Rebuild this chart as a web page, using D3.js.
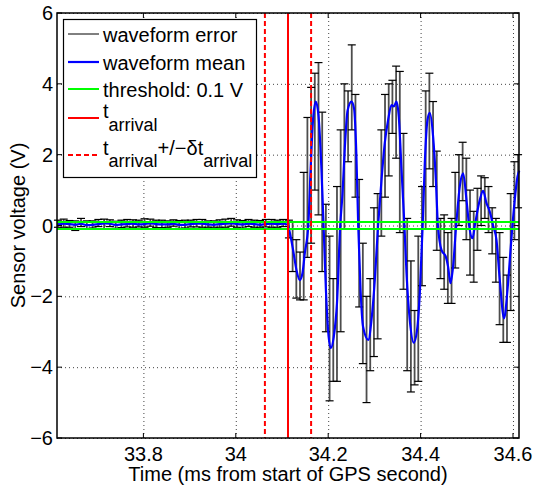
<!DOCTYPE html>
<html>
<head>
<meta charset="utf-8">
<script src="https://cdn.jsdelivr.net/npm/d3@7"></script>
<style>
body { margin: 0; background: #fff; }
text { font-family: "Liberation Sans", Arial, sans-serif; }
</style>
</head>
<body>
<div id="chart"></div>
<script>
var xTicks = [33.8, 34, 34.2, 34.4, 34.6];
var yTicks = [-6, -4, -2, 0, 2, 4, 6];
var tArrival = 34.113;
var dtArrival = 0.05;
var threshold = 0.1;

// before arrival: mean and error bars
var preT = [33.615, 33.6275, 33.64, 33.6525, 33.665, 33.6775, 33.69, 33.7025, 33.715, 33.7275,
	33.74, 33.7525, 33.765, 33.7775, 33.79, 33.8025, 33.815, 33.8275, 33.84, 33.8525,
	33.865, 33.8775, 33.89, 33.9025, 33.915, 33.9275, 33.94, 33.9525, 33.965, 33.9775,
	33.99, 34.0025, 34.015, 34.0275, 34.04, 34.0525, 34.065, 34.0775, 34.09, 34.1025];
var preMean = [0.03, 0.05, 0.04, 0.02, 0.05, 0.01, 0.02, 0.04, 0.06, 0.05,
	0.02, 0.03, 0.04, 0.05, 0.03, 0.04, 0.06, 0.04, 0.03, 0.03,
	0.05, 0.02, 0.02, 0.04, 0.05, 0.05, 0.03, 0.02, 0.04, 0.05,
	0.06, 0.04, 0.03, 0.05, 0.04, 0.02, 0.04, 0.05, 0.04, 0.05];
var preLo = [-0.08, -0.1, -0.09, -0.16, -0.08, -0.1, -0.09, -0.07, -0.16, -0.08,
	-0.1, -0.09, -0.08, -0.1, -0.07, -0.09, -0.08, -0.1, -0.09, -0.08,
	-0.07, -0.1, -0.09, -0.08, -0.09, -0.1, -0.08, -0.07, -0.09, -0.1,
	-0.08, -0.09, -0.1, -0.08, -0.09, -0.07, -0.08, -0.1, -0.09, -0.08];
var preHi = [0.12, 0.13, 0.1, 0.11, 0.15, 0.12, 0.11, 0.13, 0.12, 0.11,
	0.1, 0.12, 0.13, 0.11, 0.12, 0.15, 0.12, 0.11, 0.12, 0.1,
	0.11, 0.12, 0.13, 0.11, 0.12, 0.12, 0.1, 0.11, 0.12, 0.13,
	0.14, 0.12, 0.11, 0.12, 0.11, 0.12, 0.13, 0.12, 0.11, 0.12];

// after arrival: error bars
var errT = [34.115, 34.123, 34.131, 34.139, 34.147, 34.155, 34.163, 34.171, 34.179, 34.187,
	34.195, 34.203, 34.211, 34.219, 34.227, 34.235, 34.243, 34.251, 34.259, 34.267,
	34.275, 34.283, 34.291, 34.299, 34.307, 34.315, 34.323, 34.331, 34.339, 34.347,
	34.355, 34.363, 34.371, 34.379, 34.387, 34.395, 34.403, 34.411, 34.419, 34.427,
	34.435, 34.443, 34.451, 34.459, 34.467, 34.475, 34.483, 34.491, 34.499, 34.507,
	34.515, 34.523, 34.531, 34.539, 34.547, 34.555, 34.563, 34.571, 34.579, 34.587,
	34.595, 34.603, 34.611];
var errLo = [-0.35, -1.3, -2.05, -2.1, -2.1, -0.9, -0.5, 1.0, 0.3, -1.3,
	-3.0, -4.95, -4.4, -4.4, -3.0, -0.1, 1.8, 2.7, 0.8, -2.3,
	-3.9, -5.0, -4.1, -3.7, -3.2, -0.3, 0.8, 1.4, 2.6, 1.9,
	-0.2, -1.8, -4.1, -4.7, -4.5, -4.4, -1.7, -0.1, 1.6, 1.1,
	-0.7, -1.5, -1.8, -2.2, -2.2, -1.2, 0.0, 0.7, -0.4, -1.4,
	-1.6, -0.7, 0.0, 0.2, -0.2, -0.8, -1.6, -2.8, -3.3, -3.3,
	-2.4, -0.4, 0.5];
var errHi = [0.15, 0.1, -0.4, -0.75, 1.5, 3.05, 3.9, 4.3, 4.6, 3.2,
	0.6, -0.3, -1.5, 1.1, 2.7, 4.0, 3.8, 5.1, 3.7, 1.3,
	-0.5, -2.0, -1.5, 0.5, 0.9, 2.7, 3.7, 4.0, 4.1, 4.5,
	4.35, 2.6, 0.2, -1.0, -2.4, -0.3, 1.1, 3.8, 4.3, 3.5,
	2.1, 0.2, 0.3, -0.2, 0.2, 1.5, 2.0, 2.35, 1.9, 1.0,
	0.4, 1.05, 1.4, 1.35, 1.1, 0.5, 0.2, -0.2, -0.9, -1.4,
	0.9, 1.8, 2.0];

// after arrival: waveform mean
var meanT = [34.1126, 34.1169, 34.124, 34.1314, 34.1385, 34.1444, 34.1494, 34.1569, 34.162, 34.1673,
	34.1732, 34.179, 34.185, 34.19, 34.195, 34.2, 34.2056, 34.212, 34.219, 34.226,
	34.231, 34.236, 34.242, 34.2504, 34.256, 34.261, 34.265, 34.27, 34.2755, 34.2868,
	34.2937, 34.3009, 34.308, 34.3154, 34.3225, 34.3297, 34.337, 34.342, 34.3478, 34.3528,
	34.3587, 34.365, 34.3695, 34.3766, 34.3853, 34.3924, 34.3983, 34.4045, 34.4091, 34.4149,
	34.4199, 34.4271, 34.433, 34.4375, 34.4452, 34.4545, 34.4595, 34.4647, 34.4703, 34.477,
	34.4848, 34.492, 34.4994, 34.505, 34.5123, 34.518, 34.5281, 34.5353, 34.5426, 34.5498,
	34.5569, 34.5643, 34.5714, 34.5807, 34.5881, 34.5952, 34.6024, 34.6097, 34.6136];
var meanV = [0.02, -0.2, -0.69, -1.26, -1.54, -1.34, -0.78, 0.0, 1.6, 3.0,
	3.5, 3.1, 1.7, 0.0, -1.8, -3.0, -3.46, -3.15, -2.2, 0.0,
	0.9, 2.2, 3.25, 3.5, 3.3, 2.0, 0.0, -1.8, -2.86, -3.23,
	-2.67, -1.54, 0.0, 1.29, 2.33, 2.98, 3.4, 3.36, 3.5, 3.07,
	1.57, 0.0, -1.34, -2.67, -3.31, -2.95, -1.91, 0.0, 1.76, 2.98,
	3.18, 2.51, 1.3, 0.0, -0.69, -0.88, -1.16, -1.63, -1.16, 0.0,
	1.1, 1.47, 0.72, 0.0, -0.36, 0.05, 0.72, 0.98, 0.63, 0.39,
	0.0, -0.41, -1.54, -2.62, -1.82, -0.6, 0.53, 1.38, 1.55];

var w = 537;
var h = 494;
var pLeft = 57, pRight = 519, pTop = 13, pBottom = 438;

var svg = d3.select('#chart')
	.append('svg')
	.attr('width', w)
	.attr('height', h)
	.style('background', '#fff');

var x = d3.scaleLinear().domain([33.613, 34.613]).range([pLeft, pRight]);
var y = d3.scaleLinear().domain([-6, 6]).range([pBottom, pTop]);

// grid
svg.append('g')
	.attr('transform', 'translate(0,' + pBottom + ')')
	.call(d3.axisBottom(x).tickValues(xTicks).tickSize(-(pBottom - pTop)).tickFormat(''))
	.call(function (g) { g.select('.domain').remove(); })
	.selectAll('line')
	.attr('stroke', '#444')
	.attr('stroke-dasharray', '1,3');

svg.append('g')
	.attr('transform', 'translate(' + pLeft + ',0)')
	.call(d3.axisLeft(y).tickValues(yTicks).tickSize(-(pRight - pLeft)).tickFormat(''))
	.call(function (g) { g.select('.domain').remove(); })
	.selectAll('line')
	.attr('stroke', '#444')
	.attr('stroke-dasharray', '1,3');

var plot = svg.append('g');

// error bars
var bars = [];
preT.forEach(function (t, i) { bars.push({ t: t, lo: preMean[i] + preLo[i], hi: preMean[i] + preHi[i] }); });
errT.forEach(function (t, i) { bars.push({ t: t, lo: errLo[i], hi: errHi[i] }); });

var capW = 4;
plot.selectAll('.stem')
	.data(bars)
	.enter()
	.append('line')
	.attr('x1', function (d) { return x(d.t); })
	.attr('x2', function (d) { return x(d.t); })
	.attr('y1', function (d) { return y(d.lo); })
	.attr('y2', function (d) { return y(d.hi); })
	.attr('stroke', '#4d4d4d')
	.attr('stroke-width', 1.8);

['lo', 'hi'].forEach(function (k) {
	plot.selectAll('.cap-' + k)
		.data(bars)
		.enter()
		.append('line')
		.attr('x1', function (d) { return x(d.t) - capW; })
		.attr('x2', function (d) { return x(d.t) + capW; })
		.attr('y1', function (d) { return y(d[k]); })
		.attr('y2', function (d) { return y(d[k]); })
		.attr('stroke', '#000')
		.attr('stroke-width', 1.2);
});

// mean line
var meanPts = [];
preT.forEach(function (t, i) { meanPts.push([t, preMean[i]]); });
meanT.forEach(function (t, i) { meanPts.push([t, meanV[i]]); });

var lineFn = d3.line()
	.x(function (d) { return x(d[0]); })
	.y(function (d) { return y(d[1]); })
	.curve(d3.curveMonotoneX);

plot.append('path')
	.attr('d', lineFn(meanPts))
	.attr('fill', 'none')
	.attr('stroke', '#0000ff')
	.attr('stroke-width', 2.2);

// threshold
[threshold, -threshold].forEach(function (v) {
	plot.append('line')
		.attr('x1', pLeft).attr('x2', pRight)
		.attr('y1', y(v)).attr('y2', y(v))
		.attr('stroke', '#00ff00')
		.attr('stroke-width', 2);
});

// arrival time
plot.append('line')
	.attr('x1', x(tArrival)).attr('x2', x(tArrival))
	.attr('y1', pTop).attr('y2', pBottom)
	.attr('stroke', '#ff0000')
	.attr('stroke-width', 2);

[tArrival - dtArrival, tArrival + dtArrival].forEach(function (t) {
	plot.append('line')
		.attr('x1', x(t)).attr('x2', x(t))
		.attr('y1', pTop).attr('y2', pBottom)
		.attr('stroke', '#ff0000')
		.attr('stroke-width', 2)
		.attr('stroke-dasharray', '5,3');
});

// axes box and ticks
svg.append('rect')
	.attr('x', pLeft).attr('y', pTop)
	.attr('width', pRight - pLeft).attr('height', pBottom - pTop)
	.attr('fill', 'none')
	.attr('stroke', '#000')
	.attr('stroke-width', 1.5);

var tickLen = 5;
xTicks.forEach(function (t) {
	svg.append('line').attr('x1', x(t)).attr('x2', x(t)).attr('y1', pBottom).attr('y2', pBottom - tickLen).attr('stroke', '#000');
	svg.append('line').attr('x1', x(t)).attr('x2', x(t)).attr('y1', pTop).attr('y2', pTop + tickLen).attr('stroke', '#000');
});
yTicks.forEach(function (v) {
	svg.append('line').attr('x1', pLeft).attr('x2', pLeft + tickLen).attr('y1', y(v)).attr('y2', y(v)).attr('stroke', '#000');
	svg.append('line').attr('x1', pRight).attr('x2', pRight - tickLen).attr('y1', y(v)).attr('y2', y(v)).attr('stroke', '#000');
});

svg.selectAll('.xlab')
	.data(xTicks)
	.enter()
	.append('text')
	.text(function (d) { return d3.format('')(d); })
	.attr('x', function (d) { return x(d); })
	.attr('y', 461)
	.attr('text-anchor', 'middle')
	.attr('font-size', '20px')
	.attr('fill', '#000');

svg.selectAll('.ylab')
	.data(yTicks)
	.enter()
	.append('text')
	.text(function (d) { return d < 0 ? '\u2212' + (-d) : d; })
	.attr('x', 53)
	.attr('y', function (d) { return y(d); })
	.attr('dy', '.35em')
	.attr('text-anchor', 'end')
	.attr('font-size', '20px')
	.attr('fill', '#000');

svg.append('text')
	.text('Time (ms from start of GPS second)')
	.attr('x', (pLeft + pRight) / 2)
	.attr('y', 481)
	.attr('text-anchor', 'middle')
	.attr('font-size', '20px');

svg.append('text')
	.text('Sensor voltage (V)')
	.attr('transform', 'translate(25,' + ((pTop + pBottom) / 2) + ') rotate(-90)')
	.attr('text-anchor', 'middle')
	.attr('font-size', '20px');

// legend
var lg = svg.append('g');
lg.append('rect')
	.attr('x', 63.5).attr('y', 19.5)
	.attr('width', 193).attr('height', 158)
	.attr('fill', '#fff')
	.attr('stroke', '#000')
	.attr('stroke-width', 1.2);

var legendRows = [
	{ y: 34, color: '#000', width: 1, dash: null, text: 'waveform error' },
	{ y: 62, color: '#0000ff', width: 2.2, dash: null, text: 'waveform mean' },
	{ y: 89, color: '#00ff00', width: 2, dash: null, text: 'threshold: 0.1 V' },
	{ y: 118, color: '#ff0000', width: 2, dash: null, text: null },
	{ y: 155, color: '#ff0000', width: 2, dash: '5,3', text: null }
];
legendRows.forEach(function (r) {
	lg.append('line')
		.attr('x1', 68).attr('x2', 99)
		.attr('y1', r.y).attr('y2', r.y)
		.attr('stroke', r.color)
		.attr('stroke-width', r.width)
		.attr('stroke-dasharray', r.dash);
	if (r.text) {
		lg.append('text')
			.text(r.text)
			.attr('x', 103)
			.attr('y', r.y + 8)
			.attr('font-size', '20px');
	}
});

var t1 = lg.append('text').attr('x', 103).attr('y', 118).attr('font-size', '20px');
t1.append('tspan').text('t');
t1.append('tspan').text('arrival').attr('dy', 13).attr('font-size', '18px');

var t2 = lg.append('text').attr('x', 103).attr('y', 155).attr('font-size', '20px');
t2.append('tspan').text('t');
t2.append('tspan').text('arrival').attr('dy', 12).attr('font-size', '18px');
t2.append('tspan').text('+/\u2212\u03b4t').attr('dy', -12);
t2.append('tspan').text('arrival').attr('dy', 12).attr('font-size', '18px');
</script>
</body>
</html>
